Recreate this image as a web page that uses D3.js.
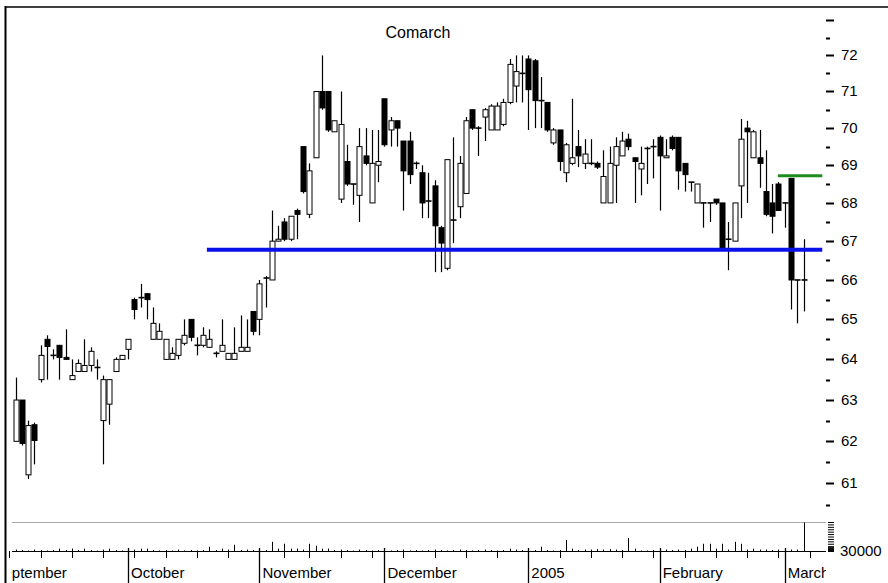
<!DOCTYPE html>
<html>
<head>
<meta charset="utf-8">
<script src="https://cdn.jsdelivr.net/npm/d3@7"></script>
<style>
    body { margin: 0; background: #fff; }
    svg { display: block; font-family: "Liberation Sans", Arial, sans-serif; }
</style>
</head>
<body>
<div id="chart"></div>
<script>
// trading calendar (weekdays minus exchange holidays)
const calendarStart = "2004-09-01";
const calendarEnd = "2005-03-07";
const holidays = ["2004-11-01", "2004-11-11"];
const firstCandle = "2004-09-07";
const monthLabels = ["September", "October", "November", "December", "2005", "February", "March"];

const open = [
    62.0, 63.0, 61.2, 62.4, 63.5, 64.5, 64.1, 64.35, 64.05, 63.5,
    63.7, 63.7, 63.85, 63.8, 62.5, 62.9, 63.7, 64.0, 64.25, 65.5,
    65.55, 65.65, 64.5, 64.5, 64.0, 64.0, 64.1, 64.4, 65.0, 64.35,
    64.35, 64.3, 64.15, 64.2, 64.0, 64.0, 64.2, 64.2, 65.2, 65.0,
    66.05, 66.0, 67.0, 67.5, 67.05, 67.8, 69.5, 67.7, 69.2, 71.0,
    71.0, 69.9, 68.1, 69.1, 68.5, 68.2, 69.25, 68.0, 69.0, 70.8,
    69.95, 70.2, 69.65, 69.65, 69.05, 68.8, 68.05, 68.45, 67.35, 66.3,
    67.55, 67.9, 68.25, 70.5, 70.0, 70.3, 69.95, 69.95, 70.1, 70.7,
    71.15, 71.5, 71.9, 71.85, 70.75, 70.7, 69.6, 69.95, 68.8, 69.05,
    69.5, 69.05, 69.05, 69.05, 68.0, 68.0, 69.0, 69.25, 69.7, 69.2,
    68.9, 69.45, 69.5, 69.75, 69.2, 69.75, 69.75, 69.05, 68.55, 68.0,
    68.0, 68.0, 68.1, 68.0, 67.05, 67.0, 68.45, 70.0, 69.2, 69.2,
    68.3, 68.0, 68.5, 68.0, 68.65, 66.0, 66.0
];
const high = [
    63.55, 63.0, 62.5, 62.45, 64.35, 64.6, 64.25, 64.35, 64.75, 64.0,
    64.0, 64.5, 64.3, 64.0, 63.6, 63.5, 64.05, 64.1, 64.5, 65.55,
    65.9, 65.65, 65.3, 64.9, 64.5, 64.3, 64.5, 65.0, 65.0, 64.55,
    64.8, 64.75, 64.2, 65.0, 64.15, 64.8, 65.1, 65.0, 65.2, 66.0,
    66.1, 67.8, 67.4, 67.6, 67.65, 67.85, 69.5, 69.05, 71.0, 72.0,
    71.0, 70.2, 71.0, 69.55, 68.5, 70.0, 70.0, 69.95, 69.95, 70.8,
    70.3, 70.2, 69.65, 69.9, 69.1, 69.0, 68.8, 68.6, 67.4, 69.15,
    69.75, 69.25, 70.3, 70.5, 70.05, 70.55, 70.65, 70.7, 70.8, 71.9,
    72.0, 72.0, 72.0, 71.9, 71.4, 70.7, 70.0, 69.95, 69.6, 70.8,
    69.95, 69.7, 69.7, 69.1, 69.4, 69.5, 69.75, 69.9, 69.85, 69.2,
    69.5, 69.5, 69.7, 69.8, 69.7, 69.8, 69.75, 69.05, 68.55, 68.5,
    68.0, 68.0, 68.1, 68.0, 67.5, 68.0, 70.25, 70.2, 69.95, 69.95,
    69.4, 68.5, 68.55, 68.0, 68.65, 66.0, 67.05
];
const low = [
    62.0, 61.9, 61.1, 61.45, 63.43, 63.5, 64.0, 63.5, 64.0, 63.5,
    63.7, 63.7, 63.7, 63.5, 61.45, 62.4, 63.7, 64.0, 64.0, 65.0,
    65.3, 65.0, 64.5, 64.5, 64.0, 64.0, 64.0, 64.35, 64.45, 64.1,
    64.3, 64.3, 64.05, 64.2, 64.0, 64.0, 64.2, 64.2, 64.6, 64.6,
    65.3, 66.0, 67.0, 67.0, 67.0, 67.05, 68.25, 67.6, 69.2, 70.5,
    69.9, 69.9, 68.0, 68.45, 67.95, 67.5, 69.0, 68.0, 68.55, 69.5,
    69.5, 69.5, 67.8, 68.5, 68.9, 67.6, 67.6, 66.2, 66.2, 66.25,
    66.95, 67.6, 68.25, 69.95, 69.25, 69.65, 69.95, 69.95, 70.05, 70.65,
    70.7, 70.7, 69.95, 70.0, 70.0, 69.9, 69.55, 68.85, 68.55, 69.0,
    68.95, 68.9, 69.0, 68.9, 68.0, 68.0, 68.0, 69.25, 69.4, 68.0,
    68.2, 68.5, 68.65, 67.8, 69.2, 69.4, 68.35, 68.3, 68.3, 68.0,
    67.35, 67.5, 67.95, 66.8, 66.25, 67.0, 67.6, 68.0, 69.2, 68.4,
    67.65, 67.2, 67.8, 67.35, 65.25, 64.9, 65.2
];
const close = [
    63.0, 61.95, 62.38, 62.02, 64.1, 64.32, 64.1, 64.05, 64.0, 63.6,
    63.9, 63.85, 64.2, 63.8, 63.5, 63.5, 64.0, 64.1, 64.5, 65.25,
    65.55, 65.5, 64.9, 64.7, 64.5, 64.15, 64.5, 64.6, 64.55, 64.35,
    64.6, 64.5, 64.15, 64.35, 64.15, 64.15, 64.3, 64.3, 64.7, 65.9,
    66.05, 67.0, 67.05, 67.05, 67.65, 67.7, 68.3, 68.85, 71.0, 70.55,
    69.95, 70.2, 70.1, 68.5, 68.5, 69.5, 69.05, 69.05, 69.1, 69.55,
    70.2, 70.0, 68.85, 68.75, 69.05, 68.0, 68.05, 67.4, 66.95, 69.15,
    67.55, 69.05, 70.2, 70.0, 70.0, 70.5, 70.6, 70.6, 70.7, 71.75,
    71.55, 71.5, 71.05, 70.75, 70.75, 69.95, 69.95, 69.1, 69.55, 69.2,
    69.25, 69.3, 69.05, 68.95, 68.7, 69.05, 69.5, 69.65, 69.5, 69.1,
    69.05, 69.45, 69.5, 69.25, 69.25, 69.45, 68.85, 68.75, 68.55, 68.5,
    68.0, 68.0, 68.0, 66.8, 67.05, 68.0, 69.7, 69.9, 69.9, 69.05,
    67.7, 67.65, 67.8, 68.0, 66.0, 66.0, 66.0
];
const volume = [
    4000, 3000, 2000, 4000, 3000, 2000, 3000, 6000, 3000, 6000,
    3000, 6000, 3000, 2000, 4000, 6000, 3000, 2000, 3000, 4000,
    6000, 6000, 3000, 2000, 3000, 2000, 4000, 2000, 3000, 2000,
    3000, 10000, 3000, 6000, 4000, 14000, 3000, 4000, 3000, 4000,
    3000, 20000, 6000, 16000, 6000, 6000, 4000, 16000, 12000, 6000,
    6000, 3000, 4000, 3000, 2000, 4000, 3000, 2000, 3000, 3000,
    2000, 3000, 4000, 2000, 3000, 2000, 3000, 4000, 3000, 2000,
    3000, 4000, 3000, 2000, 3000, 4000, 3000, 2000, 3000, 6000,
    4000, 3000, 3000, 3000, 10000, 3000, 2000, 3000, 24000, 6000,
    3000, 4000, 4000, 5000, 4000, 5000, 4000, 3000, 28000, 6000,
    2000, 2000, 3000, 2000, 4000, 3000, 4000, 3000, 6000, 10000,
    16000, 16000, 6000, 16000, 4000, 20000, 16000, 4000, 6000, 4000,
    4000, 3000, 4000, 3000, 4000, 4000, 60000
];

// price axis
const priceTicks = [61, 62, 63, 64, 65, 66, 67, 68, 69, 70, 71, 72, 73];
const priceLabels = [61, 62, 63, 64, 65, 66, 67, 68, 69, 70, 71, 72];
const priceMinor = [60.5, 61.5, 62.5, 63.5, 64.5, 65.5, 66.5, 67.5, 68.5, 69.5, 70.5, 71.5, 72.5];
const volumeTicks = [0, 1000, 2000, 3000, 4000, 6000, 8000, 10000, 15000, 20000, 25000, 30000, 35000, 40000, 45000, 50000, 55000, 60000];
const volumeLabel = "30000";

// drawn support / resistance lines (calendar index from, to, price)
const supportLine = [34.6, 133, 66.78];
const resistLine = [125.9, 133, 68.72];

function drawChart() {
    const width = 888;
    const height = 583;
    const fmt = d3.timeFormat("%Y-%m-%d");
    const parse = d3.timeParse("%Y-%m-%d");

    const days = d3.timeDay.range(parse(calendarStart), d3.timeDay.offset(parse(calendarEnd), 1))
        .filter(d => d.getDay() !== 0 && d.getDay() !== 6 && !holidays.includes(fmt(d)));
    const first = days.findIndex(d => fmt(d) === firstCandle);
    const n = close.length;

    const x = d3.scaleLinear()
        .domain([first, first + n - 1])
        .range([15.5, 803.5]);
    const y = d3.scaleLog()
        .domain([61, 72])
        .range([483.3, 55.4]);
    const yVol = d3.scaleLinear()
        .domain([0, 60000])
        .range([551.5, 522.5]);

    const svg = d3.select("#chart")
        .append("svg")
        .attr("width", width)
        .attr("height", height);

    svg.append("defs").append("clipPath")
        .attr("id", "axisclip")
        .append("rect")
        .attr("x", 11.5).attr("y", 540)
        .attr("width", 814.5).attr("height", 50);

    // frame
    svg.append("line")
        .attr("x1", 5).attr("x2", width)
        .attr("y1", 7).attr("y2", 7)
        .attr("stroke", "#000").attr("stroke-width", 1.6);
    svg.append("line")
        .attr("x1", 5.5).attr("x2", 5.5)
        .attr("y1", 6).attr("y2", height)
        .attr("stroke", "#000").attr("stroke-width", 2);

    svg.append("text")
        .attr("x", 418).attr("y", 38)
        .attr("text-anchor", "middle")
        .attr("font-size", 16)
        .text("Comarch");

    // right price axis
    const axisX = 826;
    svg.append("g")
        .selectAll("line")
        .data(priceTicks)
        .join("line")
        .attr("x1", axisX).attr("x2", axisX + 8)
        .attr("y1", d => Math.round(y(d)) + 0.5).attr("y2", d => Math.round(y(d)) + 0.5)
        .attr("stroke", "#000").attr("stroke-width", 2);
    svg.append("g")
        .selectAll("line")
        .data(priceMinor)
        .join("line")
        .attr("x1", axisX).attr("x2", axisX + 4)
        .attr("y1", d => Math.round(y(d)) + 0.5).attr("y2", d => Math.round(y(d)) + 0.5)
        .attr("stroke", "#000").attr("stroke-width", 2);
    svg.append("g")
        .selectAll("text")
        .data(priceLabels)
        .join("text")
        .attr("x", 841)
        .attr("y", d => y(d) + 5)
        .attr("font-size", 15)
        .text(d => d);

    // volume panel
    svg.append("line")
        .attr("x1", 12).attr("x2", axisX)
        .attr("y1", 522.5).attr("y2", 522.5)
        .attr("stroke", "#a8a8a8");
    svg.append("g")
        .selectAll("line")
        .data(d3.range(n))
        .join("line")
        .attr("x1", i => Math.round(x(first + i)) + 0.5)
        .attr("x2", i => Math.round(x(first + i)) + 0.5)
        .attr("y1", yVol(0))
        .attr("y2", i => Math.min(yVol(0) - 1, yVol(volume[i])))
        .attr("stroke", "#000");
    svg.append("g")
        .selectAll("line")
        .data(volumeTicks)
        .join("line")
        .attr("x1", axisX + 2).attr("x2", axisX + 8)
        .attr("y1", d => yVol(d)).attr("y2", d => yVol(d))
        .attr("stroke", "#000").attr("stroke-width", 1);
    svg.append("text")
        .attr("x", 840).attr("y", 556)
        .attr("font-size", 15)
        .text(volumeLabel);

    // time axis
    svg.append("line")
        .attr("x1", 12).attr("x2", axisX)
        .attr("y1", 551.5).attr("y2", 551.5)
        .attr("stroke", "#000");

    const monthStarts = days.map((d, i) => i).filter(i => i === 0 || days[i].getMonth() !== days[i - 1].getMonth());
    const weekStarts = days.map((d, i) => i).filter(i => i > 0 && days[i].getDay() < days[i - 1].getDay());

    svg.append("g")
        .selectAll("line")
        .data(weekStarts)
        .join("line")
        .attr("x1", i => Math.round(x(i)) + 0.5).attr("x2", i => Math.round(x(i)) + 0.5)
        .attr("y1", 551).attr("y2", 558)
        .attr("stroke", "#000");

    const axisG = svg.append("g").attr("clip-path", "url(#axisclip)");
    axisG.selectAll("line")
        .data(monthStarts)
        .join("line")
        .attr("x1", i => Math.round(x(i)) + 0.5).attr("x2", i => Math.round(x(i)) + 0.5)
        .attr("y1", 548).attr("y2", height)
        .attr("stroke", "#000").attr("stroke-width", 1.3);
    axisG.selectAll("text")
        .data(monthStarts)
        .join("text")
        .attr("x", i => x(i) + 3)
        .attr("y", 578)
        .attr("font-size", 15)
        .text((i, k) => monthLabels[k]);

    // candles
    const bodyW = 5;
    const candles = svg.append("g")
        .selectAll("g")
        .data(d3.range(n))
        .join("g")
        .attr("transform", i => `translate(${Math.round(x(first + i)) + 0.5},0)`);

    candles.append("line")
        .attr("y1", i => y(high[i]))
        .attr("y2", i => y(low[i]))
        .attr("stroke", "#000")
        .attr("stroke-width", 1.2);

    candles.each(function (i) {
        const g = d3.select(this);
        const top = y(Math.max(open[i], close[i]));
        const bot = y(Math.min(open[i], close[i]));
        if (bot - top < 1.5) {
            g.append("line")
                .attr("x1", -3).attr("x2", 3)
                .attr("y1", (top + bot) / 2).attr("y2", (top + bot) / 2)
                .attr("stroke", "#000").attr("stroke-width", 1.6);
        } else {
            g.append("rect")
                .attr("x", -bodyW / 2)
                .attr("y", top)
                .attr("width", bodyW)
                .attr("height", bot - top)
                .attr("fill", close[i] >= open[i] ? "#fff" : "#000")
                .attr("stroke", "#000")
                .attr("stroke-width", 1);
        }
    });

    // trend lines
    svg.append("line")
        .attr("x1", x(supportLine[0])).attr("x2", x(supportLine[1]))
        .attr("y1", y(supportLine[2])).attr("y2", y(supportLine[2]))
        .attr("stroke", "#0a10e8").attr("stroke-width", 4);
    svg.append("line")
        .attr("x1", x(resistLine[0])).attr("x2", x(resistLine[1]))
        .attr("y1", y(resistLine[2])).attr("y2", y(resistLine[2]))
        .attr("stroke", "#1e8c1e").attr("stroke-width", 3);
}

drawChart();
</script>
</body>
</html>
